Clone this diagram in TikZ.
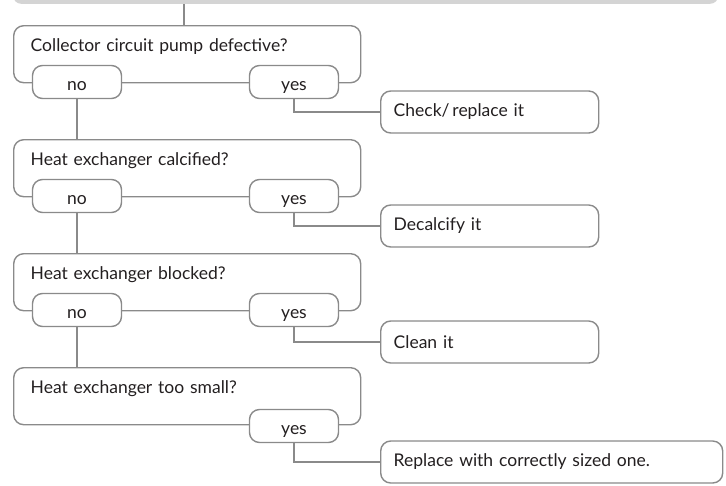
\documentclass[tikz,border=0pt]{standalone}
\usepackage{fontspec}
\setmainfont{Lato}
\definecolor{lc}{HTML}{8A8A8A}
\definecolor{tc}{HTML}{231F20}
\definecolor{barc}{HTML}{D4D4D4}
\begin{document}
\begin{tikzpicture}[x=1pt,y=-1pt,
  font=\fontsize{17.5}{20}\selectfont, text=tc,
  qbox/.style={draw=lc, line width=1.4pt, rounded corners=10pt, anchor=north west, align=left,
    text width=313pt, inner xsep=17pt, inner ysep=0pt, text height=26pt, text depth=31pt},
  pill/.style={draw=lc, line width=1.4pt, fill=white, rounded corners=10pt, minimum width=89pt, minimum height=33pt, inner sep=0pt,
    text height=17pt, text depth=1pt},
  actbox/.style={draw=lc, line width=1.4pt, fill=white, rounded corners=10pt, anchor=west, align=left,
    inner xsep=13pt, inner ysep=0pt, minimum height=42pt},
  conn/.style={draw=lc, line width=1.4pt}]
\useasboundingbox (0,0) rectangle (726,485);
\node[fill=barc, draw=none, rounded corners=8pt, minimum width=705pt, minimum height=24pt, anchor=south west, inner sep=0pt] (bar) at (13,4) {};

\node[qbox] (q1) at (13,25) {Collector circuit pump defective?};
\node[pill] (no1) at (77,82) {no};
\node[pill] (yes1) at (294,82) {yes};
\node[actbox, text width=192pt] (a1) at (380,112) {Check/\,replace it};

\node[qbox] (q2) at (13,139) {Heat exchanger calcified?};
\node[pill] (no2) at (77,196) {no};
\node[pill] (yes2) at (294,196) {yes};
\node[actbox, text width=192pt] (a2) at (380,226) {Decalcify it};

\node[qbox] (q3) at (13,253) {Heat exchanger blocked?};
\node[pill] (no3) at (77,310) {no};
\node[pill] (yes3) at (294,310) {yes};
\node[actbox, text width=192pt] (a3) at (380,342) {Clean it};

\node[qbox] (q4) at (13,367) {Heat exchanger too small?};
\node[pill] (yes4) at (294,426) {yes};
\node[actbox, text width=316pt] (a4) at (380,462) {Replace with correctly sized one.};

\draw[conn] (q1.north -| 184,0) -- (bar.south -| 184,0);
\draw[conn] (no1.south) -- (no1.south |- q2.north);
\draw[conn] (no2.south) -- (no2.south |- q3.north);
\draw[conn] (no3.south) -- (no3.south |- q4.north);
\draw[conn] (yes1.south) |- (a1.west);
\draw[conn] (yes2.south) |- (a2.west);
\draw[conn] (yes3.south) |- (a3.west);
\draw[conn] (yes4.south) |- (a4.west);
\end{tikzpicture}
\end{document}
